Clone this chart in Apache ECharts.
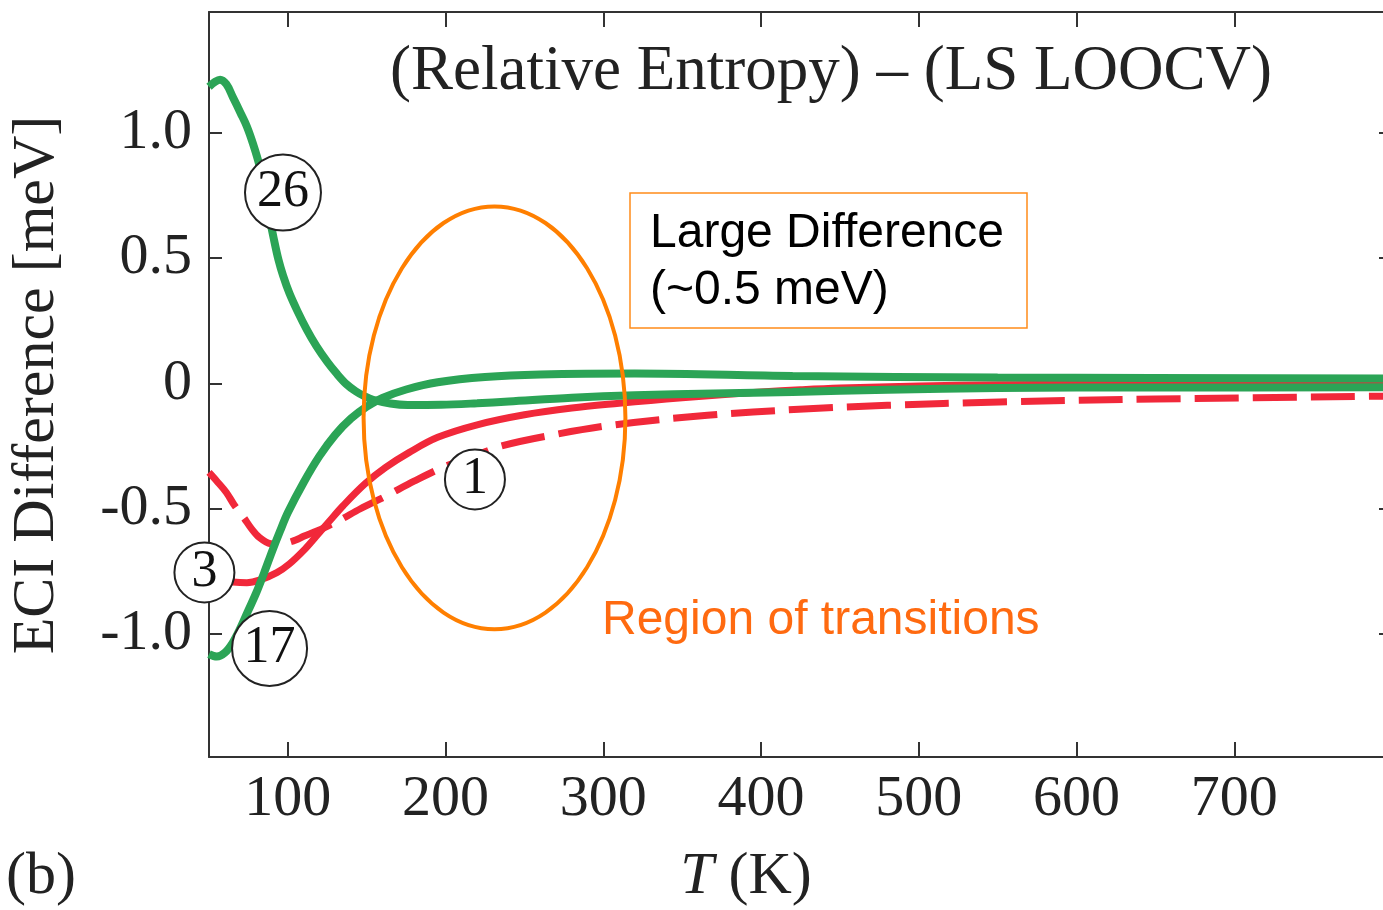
<!DOCTYPE html>
<html>
<head>
<meta charset="utf-8">
<script src="https://cdn.jsdelivr.net/npm/echarts@6/dist/echarts.min.js"></script>
<style>
  html, body { margin: 0; padding: 0; background: #fff; }
  #chart { width: 1383px; height: 910px; }
</style>
</head>
<body>
<div id="chart"></div>
<script>
// values (T in K, ECI difference in meV)
const xTicks = [100, 200, 300, 400, 500, 600, 700, 800]
const xLabels = [100, 200, 300, 400, 500, 600, 700]
const yTicks = [-1, -0.5, 0, 0.5, 1]

// cluster 26 (green, starts high)
const t26 = [50, 54, 57, 61, 65, 70, 74, 78, 82, 85, 88, 91, 94, 97, 101, 106, 112, 118, 125, 131, 137, 143, 148, 154, 165, 176, 197, 220, 240, 280, 320, 370, 420, 480, 550, 650, 800]
const eci26 = [1.185, 1.205, 1.213, 1.195, 1.145, 1.08, 1.026, 0.955, 0.87, 0.78, 0.675, 0.58, 0.495, 0.43, 0.36, 0.29, 0.215, 0.15, 0.086, 0.039, -0.002, -0.031, -0.049, -0.065, -0.08, -0.086, -0.085, -0.079, -0.072, -0.057, -0.047, -0.04, -0.034, -0.025, -0.018, -0.016, -0.015]

// cluster 17 (green, starts low)
const t17 = [50, 55, 60, 65, 70, 75, 80, 85, 90, 95, 100, 110, 120, 130, 140, 150, 160, 175, 195, 225, 260, 320, 420, 550, 800]
const eci17 = [-1.08, -1.09, -1.075, -1.035, -0.975, -0.905, -0.835, -0.755, -0.67, -0.59, -0.515, -0.395, -0.29, -0.205, -0.14, -0.092, -0.058, -0.024, 0.005, 0.026, 0.036, 0.04, 0.03, 0.024, 0.02]

// cluster 3 (red, solid)
const t3 = [50, 58, 65, 74, 82, 93, 101, 111, 118, 126, 135, 149, 162, 177, 195, 220, 250, 280, 310, 330, 350, 375, 400, 425, 450, 500, 550, 600, 700, 800]
const eci3 = [-0.77, -0.785, -0.792, -0.795, -0.785, -0.755, -0.72, -0.66, -0.61, -0.552, -0.488, -0.40, -0.335, -0.275, -0.215, -0.165, -0.125, -0.098, -0.079, -0.068, -0.057, -0.045, -0.034, -0.025, -0.018, -0.010, -0.005, -0.003, -0.002, -0.001]

// cluster 1 (red, dashed)
const t1 = [50, 55, 61, 66, 72, 77, 82, 89, 95, 100, 105, 110, 118, 125, 133, 146, 162, 180, 200, 220, 235, 264, 307, 366, 424, 480, 551, 650, 800]
const eci1 = [-0.355, -0.39, -0.435, -0.485, -0.535, -0.58, -0.615, -0.64, -0.642, -0.635, -0.625, -0.61, -0.59, -0.57, -0.545, -0.50, -0.45, -0.39, -0.33, -0.285, -0.25, -0.21, -0.165, -0.127, -0.103, -0.087, -0.074, -0.062, -0.05]

// circled cluster labels: [T, ECI, text]
const clusterTags = [[96.9, 0.762, '26'], [47.1, -0.754, '3'], [88.4, -1.058, '17'], [218.6, -0.383, '1']]
const tagSizes = [76, 60, 75, 60]

// transition region ellipse, centre [T, ECI] and half-extent [K, meV]
const regionCentre = [231, -0.137]
const regionHalf = [83, 0.844]

const serif = '"Liberation Serif", "Times New Roman", serif'
const sans = '"Liberation Sans", Arial, sans-serif'
const green = '#2ba456'
const red = '#f1283a'
const orange = '#ff7f00'

const pairs = (xs, ys) => xs.map((x, i) => [x, ys[i]])

const chart = echarts.init(document.getElementById('chart'))

const lineSeries = (name, xs, ys, color, width, dashed) => ({
  name,
  type: 'line',
  data: pairs(xs, ys),
  smooth: 0.35,
  symbol: 'none',
  lineStyle: {
    color,
    width,
    type: dashed ? [44, 14] : 'solid',
    cap: 'butt'
  },
  z: 2
})

const axisLine = { show: true, onZero: false, lineStyle: { color: '#333', width: 2 } }
const tickStyle = { color: '#333', width: 2 }

chart.setOption({
  animation: false,
  title: {
    text: '(Relative Entropy) – (LS LOOCV)',
    left: 826,
    textAlign: 'center',
    top: 36,
    textStyle: { fontFamily: serif, fontSize: 63, fontWeight: 'normal', color: '#222' }
  },
  grid: { left: 209, top: 12, width: 1183, height: 745, outerBoundsMode: 'none', containLabel: false },
  xAxis: [
    {
      type: 'value',
      min: 50,
      max: 800,
      axisLine,
      splitLine: { show: false },
      axisTick: { inside: true, length: 15, customValues: xTicks, lineStyle: tickStyle },
      axisLabel: {
        customValues: xLabels,
        margin: 14,
        fontFamily: serif,
        fontSize: 58,
        color: '#222'
      }
    },
    {
      type: 'value',
      position: 'top',
      min: 50,
      max: 800,
      axisLine,
      splitLine: { show: false },
      axisTick: { inside: true, length: 15, customValues: xTicks, lineStyle: tickStyle },
      axisLabel: { show: false }
    }
  ],
  yAxis: [
    {
      type: 'value',
      min: -1.491,
      max: 1.483,
      axisLine,
      splitLine: { show: false },
      axisTick: { inside: true, length: 13, customValues: yTicks, lineStyle: tickStyle },
      axisLabel: {
        customValues: yTicks,
        margin: 17,
        fontFamily: serif,
        fontSize: 58,
        color: '#222',
        formatter: v => (v === 0 ? '0' : v.toFixed(1))
      }
    },
    {
      type: 'value',
      position: 'right',
      min: -1.491,
      max: 1.483,
      axisLine,
      splitLine: { show: false },
      axisTick: { inside: true, length: 13, customValues: yTicks, lineStyle: tickStyle },
      axisLabel: { show: false }
    }
  ],
  series: [
    lineSeries('1', t1, eci1, red, 7, true),
    lineSeries('3', t3, eci3, red, 7, false),
    lineSeries('26', t26, eci26, green, 8, false),
    lineSeries('17', t17, eci17, green, 8, false),
    {
      type: 'scatter',
      clip: false,
      z: 5,
      data: clusterTags.map((d, i) => ({ value: [d[0], d[1]], name: d[2], symbolSize: tagSizes[i] })),
      itemStyle: { color: '#fff', borderColor: '#222', borderWidth: 2, opacity: 1 },
      label: {
        show: true,
        position: 'inside',
        formatter: p => p.name,
        fontFamily: serif,
        fontSize: 52,
        color: '#111'
      }
    }
  ]
})

// annotations (ellipse placed from data coordinates)
const c = chart.convertToPixel({ xAxisIndex: 0, yAxisIndex: 0 }, regionCentre)
const e = chart.convertToPixel({ xAxisIndex: 0, yAxisIndex: 0 }, [regionCentre[0] + regionHalf[0], regionCentre[1] + regionHalf[1]])

chart.setOption({
  graphic: [
    {
      type: 'ellipse',
      z: 10,
      shape: { cx: c[0], cy: c[1], rx: e[0] - c[0], ry: c[1] - e[1] },
      style: { fill: 'none', stroke: orange, lineWidth: 4 }
    },
    {
      type: 'rect',
      z: 10,
      shape: { x: 630, y: 193, width: 397, height: 135 },
      style: { fill: 'none', stroke: '#ff8c1a', lineWidth: 1.5 }
    },
    {
      type: 'text', z: 10, x: 650, y: 234,
      style: { text: 'Large Difference', fontFamily: sans, fontSize: 48, fill: '#000', verticalAlign: 'middle' }
    },
    {
      type: 'text', z: 10, x: 650, y: 291,
      style: { text: '(~0.5 meV)', fontFamily: sans, fontSize: 48, fill: '#000', verticalAlign: 'middle' }
    },
    {
      type: 'text', z: 10, x: 602, y: 621,
      style: { text: 'Region of transitions', fontFamily: sans, fontSize: 48, fill: '#ff6a10', verticalAlign: 'middle' }
    },
    {
      type: 'text', z: 10, x: 37, y: 385, rotation: Math.PI / 2,
      style: { text: 'ECI Difference [meV]', fontFamily: serif, fontSize: 60, fill: '#222', align: 'center', verticalAlign: 'middle' }
    },
    {
      type: 'text', z: 10, x: 746, y: 877,
      style: {
        text: '{i|T} (K)',
        fontFamily: serif,
        fontSize: 60,
        fill: '#222',
        align: 'center',
        verticalAlign: 'middle',
        rich: { i: { fontFamily: serif, fontSize: 60, fontStyle: 'italic', fill: '#222' } }
      }
    },
    {
      type: 'text', z: 10, x: 6, y: 877,
      style: { text: '(b)', fontFamily: serif, fontSize: 60, fill: '#222', verticalAlign: 'middle' }
    }
  ]
})
</script>
</body>
</html>
